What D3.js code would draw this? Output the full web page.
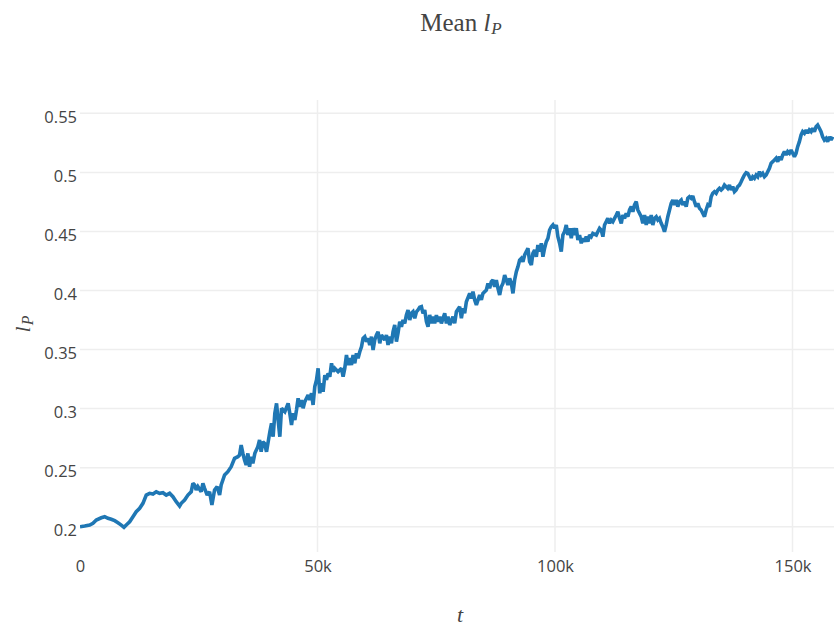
<!DOCTYPE html>
<html>
<head>
<meta charset="utf-8">
<script src="https://cdn.jsdelivr.net/npm/d3@7"></script>
<style>
  html, body { margin: 0; padding: 0; background: #fff; }
  svg { display: block; }
  .tick-label { font-family: "Open Sans", sans-serif; font-size: 16.5px; fill: #444; }
  .math { font-family: "Liberation Serif", "DejaVu Serif", serif; fill: #444; }
</style>
</head>
<body>
<svg id="chart" width="834" height="629"></svg>
<script>
// Training step t (left to right)
const steps = [
  0, 990, 2040, 2730, 3430, 4480, 5200, 5890, 6580, 7300, 7990, 8690, 9260, 9740, 10450, 11150, 11840, 12560, 13250, 13950,
  14660, 15360, 16050, 16760, 17460, 18150, 18870, 19560, 20260, 20970, 21310, 22020, 22720, 23410, 23770, 24130, 24460, 24820, 25520, 25870,
  26230, 26780, 27280, 27770, 28330, 28880, 29390, 29720, 30080, 30440, 31130, 31830, 32540, 33240, 33590, 33930, 34290, 34640, 34980, 35340,
  35700, 36030, 36390, 36810, 37440, 37800, 38140, 38490, 38850,
  39270, 39970, 40320, 40660, 41020, 41380, 41710, 42070, 42430, 43120, 43820, 44170, 44530, 44870, 45230, 45580, 45920, 46280, 46630, 46970,
  47330, 48020, 48380, 48740, 49070, 49430, 49790, 50130, 50480, 50840, 51180, 51540, 51890, 52230, 52590, 52950, 53280, 53640, 54330, 55050,
  55390, 55740, 56100, 56440, 56790, 57150, 57490, 57850, 58200, 58540, 58900, 59260, 59590, 59950, 60310, 60640, 61000, 61360, 61700, 62050,
  62410, 62750, 63110, 63460, 64160, 64510, 64850, 65210, 65570, 65900, 66260, 66620, 66950, 67310, 67670, 68010, 68360, 68720, 69060, 69420,
  69770, 70110, 70470, 70830, 71160, 71520, 71880, 72210, 72570, 72930, 73270, 73620, 73980, 74320, 74670, 75030, 75370, 75730, 76080, 76780,
  77140, 77470, 77830,
  78520, 78880, 79240, 79930, 80290, 80630, 80980, 81340, 82040, 82400, 82730, 83090, 83450, 84140, 84500, 84830, 85550, 85890, 86240, 86600,
  86940, 87300, 87650, 87990, 88350, 88700, 89040, 89400, 89760, 90090, 90450, 90810, 91150, 91500, 91860, 92200, 92550, 92910, 93250, 93610,
  93960, 94300, 94660, 95020, 95350, 95710, 96070, 96400, 96760, 97120, 97460, 97810, 98170, 98510, 98860, 99220, 99560, 99920, 100270, 100610,
  100970, 101320, 101660, 102020, 102370, 102710, 103070, 103430, 103760, 104120, 104480, 104820, 105170, 105530, 105870, 106230, 106580, 106920, 107280, 107630,
  107970, 108690, 109020, 109380, 109740, 110080, 110430, 110790, 111130, 111490, 111840, 112180, 112900, 113230, 113590, 113950, 114280, 114640, 115000, 115340,
  115690, 116050, 116390, 116740, 117100, 117440,
  118150, 118490, 118850, 119210, 119540, 119900, 120260, 120590, 120950, 121310, 121650, 122000, 122360, 122700, 123050, 123410, 123750, 124110, 124460, 124800,
  125160, 125510, 125850, 126210, 126570, 126900, 127260, 127620, 127960, 128310, 128670, 129010, 129360, 129720, 130060, 130420, 130770, 131110, 131470, 131820,
  132160, 132520, 132880, 133210, 133570, 133930, 134270, 134620, 134980, 135320, 135680, 136030, 136370, 136730, 137080, 137420, 137780, 138130, 138470, 138830,
  139190, 139520, 139880, 140240, 140580, 140930, 141290, 141630, 141980, 142340, 142680, 143040, 143390, 143730, 144090, 144450, 144780, 145140, 145500, 145840,
  146190, 146550, 146890, 147250, 147600, 147940, 148300, 148650, 148990, 149350, 149700, 150040, 150400, 150750, 151090, 151450, 151810, 152140, 152500, 152860,
  153200, 153550, 153910, 154250, 154610, 154960, 155300, 155660, 156010, 156350, 156710, 157070, 157400, 157760, 158120, 158460
];

// Mean l_P at each step
const meanLP = [
  0.2000, 0.2006, 0.2014, 0.2029, 0.2057, 0.2076, 0.2085, 0.2071, 0.2063, 0.2051, 0.2034, 0.2014, 0.1995, 0.2014, 0.2042, 0.2085, 0.2127, 0.2156, 0.2198, 0.2268,
  0.2283, 0.2277, 0.2296, 0.2283, 0.2288, 0.2268, 0.2283, 0.2254, 0.2212, 0.2175, 0.2198, 0.2226, 0.2268, 0.2296, 0.2367, 0.2353, 0.2311, 0.2339, 0.2296, 0.2367,
  0.2325, 0.2268, 0.2296, 0.2184, 0.2311, 0.2339, 0.2268, 0.2353, 0.2396, 0.2438, 0.2466, 0.2508, 0.2579, 0.2593, 0.2607, 0.2692, 0.2621, 0.2565, 0.2523, 0.2621,
  0.2508, 0.2593, 0.2537, 0.2621, 0.2677, 0.2734, 0.2635, 0.2720, 0.2706,
  0.2635, 0.2804, 0.2876, 0.2762, 0.2960, 0.3045, 0.2903, 0.2762, 0.3003, 0.2974, 0.3045, 0.2960, 0.2861, 0.2960, 0.2903, 0.2988, 0.3087, 0.3016, 0.3073, 0.3003,
  0.3059, 0.3115, 0.3073, 0.3130, 0.3031, 0.3186, 0.3243, 0.3341, 0.3130, 0.3214, 0.3143, 0.3284, 0.3243, 0.3299, 0.3270, 0.3384, 0.3313, 0.3341, 0.3313, 0.3341,
  0.3270, 0.3341, 0.3454, 0.3369, 0.3426, 0.3369, 0.3454, 0.3384, 0.3468, 0.3426, 0.3482, 0.3524, 0.3595, 0.3609, 0.3567, 0.3595, 0.3539, 0.3609, 0.3496, 0.3581,
  0.3623, 0.3651, 0.3553, 0.3623, 0.3581, 0.3623, 0.3539, 0.3609, 0.3553, 0.3651, 0.3708, 0.3567, 0.3638, 0.3736, 0.3693, 0.3750, 0.3722, 0.3792, 0.3835, 0.3750,
  0.3807, 0.3820, 0.3765, 0.3820, 0.3835, 0.3858, 0.3863, 0.3807, 0.3835, 0.3736, 0.3693, 0.3793, 0.3722, 0.3778, 0.3722, 0.3792, 0.3736, 0.3778, 0.3722, 0.3807,
  0.3722, 0.3778, 0.3708,
  0.3778, 0.3722, 0.3820, 0.3863, 0.3765, 0.3849, 0.3807, 0.3905, 0.3976, 0.3934, 0.3990, 0.3920, 0.3878, 0.3962, 0.3920, 0.3976, 0.4004, 0.4061, 0.4019, 0.4075,
  0.4089, 0.4032, 0.4089, 0.4019, 0.3962, 0.4032, 0.4061, 0.4131, 0.4089, 0.4047, 0.4103, 0.4061, 0.3976, 0.4089, 0.4159, 0.4202, 0.4258, 0.4273, 0.4244, 0.4301,
  0.4329, 0.4358, 0.4244, 0.4216, 0.4315, 0.4343, 0.4286, 0.4385, 0.4329, 0.4400, 0.4286, 0.4358, 0.4414, 0.4442, 0.4512, 0.4540, 0.4555, 0.4527, 0.4555, 0.4455,
  0.4400, 0.4329, 0.4470, 0.4498, 0.4555, 0.4470, 0.4527, 0.4442, 0.4527, 0.4470, 0.4527, 0.4428, 0.4470, 0.4400, 0.4442, 0.4414, 0.4456, 0.4414, 0.4470, 0.4456,
  0.4484, 0.4470, 0.4498, 0.4527, 0.4512, 0.4456, 0.4555, 0.4583, 0.4611, 0.4569, 0.4597, 0.4583, 0.4639, 0.4667, 0.4611, 0.4569, 0.4639, 0.4611, 0.4654, 0.4625,
  0.4682, 0.4710, 0.4667, 0.4724, 0.4752, 0.4682,
  0.4625, 0.4569, 0.4639, 0.4555, 0.4625, 0.4569, 0.4639, 0.4555, 0.4611, 0.4625, 0.4597, 0.4611, 0.4569, 0.4540, 0.4498, 0.4555, 0.4625, 0.4682, 0.4738, 0.4766,
  0.4724, 0.4766, 0.4710, 0.4752, 0.4766, 0.4724, 0.4752, 0.4710, 0.4781, 0.4794, 0.4781, 0.4800, 0.4752, 0.4710, 0.4738, 0.4696, 0.4682, 0.4654, 0.4625, 0.4682,
  0.4724, 0.4710, 0.4794, 0.4823, 0.4837, 0.4823, 0.4851, 0.4865, 0.4851, 0.4865, 0.4893, 0.4879, 0.4865, 0.4893, 0.4851, 0.4879, 0.4837, 0.4851, 0.4879, 0.4893,
  0.4921, 0.4950, 0.4978, 0.4997, 0.4992, 0.4963, 0.4935, 0.4963, 0.4950, 0.4978, 0.4963, 0.5006, 0.4978, 0.4992, 0.4963, 0.4978, 0.5006, 0.5035, 0.5078, 0.5091,
  0.5105, 0.5120, 0.5091, 0.5133, 0.5105, 0.5148, 0.5176, 0.5148, 0.5176, 0.5162, 0.5190, 0.5162, 0.5133, 0.5162, 0.5218, 0.5260, 0.5317, 0.5345, 0.5331, 0.5359,
  0.5331, 0.5359, 0.5345, 0.5374, 0.5345, 0.5387, 0.5401, 0.5374, 0.5345, 0.5302, 0.5274, 0.5288, 0.5260, 0.5302, 0.5274, 0.5302
];

// Axis ticks
const xTicks = [0, 50000, 100000, 150000];
const xTickLabels = ["0", "50k", "100k", "150k"];
const yTicks = [0.2, 0.25, 0.3, 0.35, 0.4, 0.45, 0.5, 0.55];
const yTickLabels = ["0.2", "0.25", "0.3", "0.35", "0.4", "0.45", "0.5", "0.55"];

const plot = { left: 80, right: 840, top: 100, bottom: 552 };

const x = d3.scaleLinear().domain([0, 160000]).range([plot.left, plot.right]);
const y = d3.scaleLinear().domain([0.1786, 0.5613]).range([plot.bottom, plot.top]);

const svg = d3.select("#chart");

const n = Math.min(steps.length, meanLP.length);
const data = d3.range(n).map(i => ({ t: steps[i], v: meanLP[i] }));

// Gridlines
const grid = svg.append("g");
grid.selectAll("line.hgrid").data(yTicks).join("line")
  .attr("x1", plot.left).attr("x2", plot.right)
  .attr("y1", d => y(d)).attr("y2", d => y(d))
  .attr("stroke", "#eee").attr("stroke-width", 1.5);
grid.selectAll("line.vgrid").data(xTicks.filter(d => d > 0)).join("line")
  .attr("x1", d => x(d)).attr("x2", d => x(d))
  .attr("y1", plot.top).attr("y2", plot.bottom)
  .attr("stroke", "#eee").attr("stroke-width", 1.5);

// Axes (labels only, no domain lines or tick marks)
const xAxis = d3.axisBottom(x).tickValues(xTicks)
  .tickFormat((d, i) => xTickLabels[i]).tickSize(0).tickPadding(0);
const gx = svg.append("g").attr("transform", `translate(0,${plot.bottom})`).call(xAxis);
gx.select(".domain").remove();
gx.selectAll("text").attr("class", "tick-label").attr("dy", null).attr("y", 20);

const yAxis = d3.axisLeft(y).tickValues(yTicks)
  .tickFormat((d, i) => yTickLabels[i]).tickSize(0).tickPadding(0);
const gy = svg.append("g").attr("transform", `translate(${plot.left - 3},0)`).call(yAxis);
gy.select(".domain").remove();
gy.selectAll("text").attr("class", "tick-label").attr("dy", null).attr("y", 9);

// Series line
svg.append("clipPath").attr("id", "plot-clip")
  .append("rect").attr("x", plot.left).attr("y", plot.top)
  .attr("width", plot.right - plot.left).attr("height", plot.bottom - plot.top);

const line = d3.line().x(d => x(d.t)).y(d => y(d.v));
svg.append("path").datum(data)
  .attr("clip-path", "url(#plot-clip)")
  .attr("fill", "none")
  .attr("stroke", "#1f77b4")
  .attr("stroke-width", 3.6)
  .attr("stroke-linejoin", "miter")
  .attr("stroke-miterlimit", 2)
  .attr("d", line);

// Title: Mean l_P
const title = svg.append("text").attr("class", "math")
  .attr("x", 461).attr("y", 31).attr("text-anchor", "middle")
  .style("font-size", "25px");
title.append("tspan").text("Mean ");
title.append("tspan").style("font-style", "italic").text("l");
title.append("tspan").style("font-style", "italic").style("font-size", "17px")
  .attr("dy", 3).attr("dx", 1).text("P");

// x-axis title
svg.append("text").attr("class", "math")
  .attr("x", 460).attr("y", 622).attr("text-anchor", "middle")
  .style("font-size", "22px").style("font-style", "italic").text("t");

// y-axis title
const yt = svg.append("text").attr("class", "math")
  .attr("transform", "translate(30,324) rotate(-90)")
  .attr("text-anchor", "middle")
  .style("font-size", "22px").style("font-style", "italic");
yt.append("tspan").text("l");
yt.append("tspan").style("font-size", "16px").attr("dy", 3).attr("dx", 1).text("P");
</script>
</body>
</html>
